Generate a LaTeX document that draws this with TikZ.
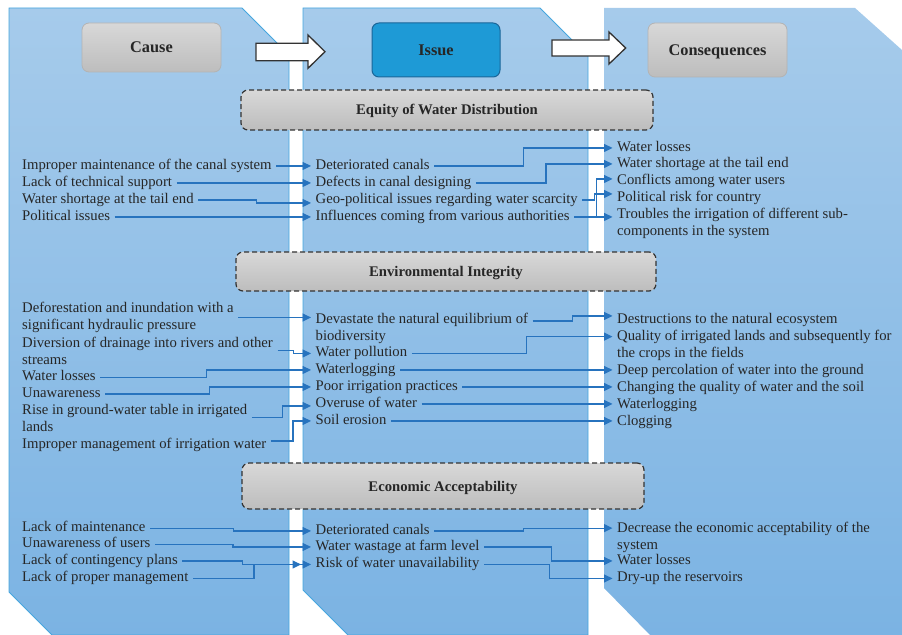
\documentclass[tikz,border=0pt]{standalone}
\usepackage{fontspec}
\setmainfont{Liberation Serif}
\usetikzlibrary{arrows.meta,calc}
\definecolor{panelTop}{HTML}{A6CBEB}
\definecolor{panelBot}{HTML}{7BB3E3}
\definecolor{panelEdge}{HTML}{45A6DE}
\definecolor{boxTop}{HTML}{D8D8D8}
\definecolor{boxBot}{HTML}{BDBDBD}
\definecolor{boxEdge}{HTML}{B3B3B3}
\definecolor{issueFill}{HTML}{1E9AD6}
\definecolor{issueEdge}{HTML}{1A6699}
\definecolor{linkblue}{HTML}{2773BE}
\definecolor{txt}{HTML}{262626}

\begin{document}
\begin{tikzpicture}[x=1bp,y=-1bp,
    panel/.style={top color=panelTop,bottom color=panelBot},
    panelline/.style={draw=panelEdge,line width=0.8bp},
    head/.style={draw=boxEdge,line width=0.8bp,rounded corners=7bp,top color=boxTop,bottom color=boxBot,
        font=\fontsize{16.3bp}{19bp}\selectfont\bfseries,text=txt,inner sep=0pt,text height=11bp,text depth=0bp},
    issuebox/.style={draw=issueEdge,line width=1bp,rounded corners=7bp,fill=issueFill,
        font=\fontsize{16.3bp}{19bp}\selectfont\bfseries,text=txt,inner sep=0pt,text height=11bp,text depth=0bp},
    group/.style={draw=black!80,dash pattern=on 5bp off 3bp,line width=1.2bp,rounded corners=7bp,
        top color=boxTop,bottom color=boxBot,font=\fontsize{14.7bp}{17bp}\selectfont\bfseries,text=txt,
        inner sep=0pt,text height=10bp,text depth=0bp},
    item/.style={anchor=north west,inner xsep=4.5bp,inner ysep=0pt,font=\fontsize{14.7bp}{17bp}\selectfont,
        text=txt,text height=10bp,text depth=3.5bp},
    items/.style={anchor=north west,inner xsep=4.5bp,inner ysep=0pt,font=\fontsize{14.7bp}{17bp}\selectfont,
        text=txt,align=left},
    link/.style={draw=linkblue,line width=1.2bp,-{Triangle[length=8.5bp,width=8bp]}},
    blockarrow/.style={draw=black!80,fill=white,line width=1.3bp,line join=miter}
]
\useasboundingbox (0,0) rectangle (902,635);

\path[panel,panelline] (9,8) -- (242,8) -- (289,55) -- (289,635) -- (52,635) -- (9,592) -- cycle;
\path[panel,panelline] (303,8) -- (540,8) -- (588,56) -- (588,635) -- (348,635) -- (303,590) -- cycle;
\path[panel] (604,8) -- (855,8) -- (902,50) -- (902,635) -- (650,635) -- (604,588) -- cycle;

\node[head,minimum width=139bp,minimum height=49bp] (cause) at (151.5,47.5) {Cause};
\node[issuebox,minimum width=128bp,minimum height=54bp] (issue) at (436,50) {Issue};
\node[head,minimum width=139bp,minimum height=54bp] (conseq) at (717.5,50) {Consequences};

\draw[blockarrow] (256,43.3) -- (308,43.3) -- (308,35) -- (325,51.7) -- (308,68.3) -- (308,60.7) -- (256,60.7) -- cycle;
\draw[blockarrow] (552,40) -- (609,40) -- (609,32) -- (625.7,48) -- (609,64) -- (609,56) -- (552,56) -- cycle;

\node[group,minimum width=412bp,minimum height=40bp] (secA) at (447,110) {Equity of Water Distribution};
\node[group,minimum width=420bp,minimum height=39bp] (secB) at (446,271.5) {Environmental Integrity};
\node[group,minimum width=402bp,minimum height=46bp] (secC) at (443,486) {Economic Acceptability};

\node[item] (cA1) at (17.5,159) {Improper maintenance of the canal system};
\node[item] (cA2) at (17.5,176) {Lack of technical support};
\node[item] (cA3) at (17.5,193) {Water shortage at the tail end};
\node[item] (cA4) at (17.5,210) {Political issues};
\node[item] (iA1) at (311,159) {Deteriorated canals};
\node[item] (iA2) at (311,176) {Defects in canal designing};
\node[item] (iA3) at (311,193) {Geo-political issues regarding water scarcity};
\node[item] (iA4) at (311,210) {Influences coming from various authorities};
\node[item] (qA1) at (612.5,141) {Water losses};
\node[item] (qA2) at (612.5,157) {Water shortage at the tail end};
\node[item] (qA3) at (612.5,174) {Conflicts among water users};
\node[item] (qA4) at (612.5,191) {Political risk for country};
\node[items] (qA5) at (612.5,208) {Troubles the irrigation of different sub-\\components in the system};

\node[items] (cB1) at (17.5,302) {Deforestation and inundation with a\\significant hydraulic pressure};
\node[items] (cB2) at (17.5,336.5) {Diversion of drainage into rivers and other\\streams};
\node[item] (cB3) at (17.5,370.5) {Water losses};
\node[item] (cB4) at (17.5,387) {Unawareness};
\node[items] (cB5) at (17.5,404) {Rise in ground-water table in irrigated\\lands};
\node[item] (cB6) at (17.5,438) {Improper management of irrigation water};
\node[items] (iB1) at (311,313) {Devastate the natural equilibrium of\\biodiversity};
\node[item] (iB2) at (311,346.5) {Water pollution};
\node[item] (iB3) at (311,363) {Waterlogging};
\node[item] (iB4) at (311,380) {Poor irrigation practices};
\node[item] (iB5) at (311,397) {Overuse of water};
\node[item] (iB6) at (311,414) {Soil erosion};
\node[item] (qB1) at (612.5,313) {Destructions to the natural ecosystem};
\node[items] (qB2) at (612.5,330) {Quality of irrigated lands and subsequently for\\the crops in the fields};
\node[item] (qB3) at (612.5,364) {Deep percolation of water into the ground};
\node[item] (qB4) at (612.5,381.5) {Changing the quality of water and the soil};
\node[item] (qB5) at (612.5,398) {Waterlogging};
\node[item] (qB6) at (612.5,415) {Clogging};

\node[item] (cC1) at (17.5,521.5) {Lack of maintenance};
\node[item] (cC2) at (17.5,537.5) {Unawareness of users};
\node[item] (cC3) at (17.5,554) {Lack of contingency plans};
\node[item] (cC4) at (17.5,571.5) {Lack of proper management};
\node[item] (iC1) at (311,524) {Deteriorated canals};
\node[item] (iC2) at (311,540) {Water wastage at farm level};
\node[item] (iC3) at (311,557.5) {Risk of water unavailability};
\node[items] (qC1) at (612.5,521.5) {Decrease the economic acceptability of the\\system};
\node[item] (qC2) at (612.5,554) {Water losses};
\node[item] (qC3) at (612.5,571.5) {Dry-up the reservoirs};

\draw[link] (cA1.east) -- ++(17,0) |- (iA1.west);
\draw[link] (cA2.east) -- (iA2.west);
\draw[link] (cA3.east) -- ++(58,0) |- ([yshift=-3bp]iA3.west);
\draw[link] (cA4.east) -- (iA4.west);
\draw[link] (iA1.east) -- ++(89,0) |- (qA1.west);
\draw[link] (iA2.east) -- ++(70,0) |- (qA2.west);
\draw[link] (iA3.east) -- ++(12,0) |- ([yshift=4bp]qA4.west);
\draw[link] (iA4.east) -- ++(22,0) |- ([yshift=2bp]qA3.west);
\draw[link] (iA4.east) -- (iA4.east -| qA5.west);

\draw[link] (cB1.east) -- (cB1.east -| iB1.west);
\draw[link] (cB2.east) -- ++(16,0) |- (iB2.west);
\draw[link] (cB3.east) -- ++(106,0) |- (iB3.west);
\draw[link] (cB4.east) -- ++(104,0) |- (iB4.west);
\draw[link] (cB5.east) -- ++(31,0) |- ([yshift=-2bp]iB5.west);
\draw[link] ([yshift=4bp]cB6.east) -- ++(22,0) |- (iB6.west);
\draw[link] ([yshift=-8bp]iB1.north east) -- ++(40,0) |- ([yshift=4bp]qB1.west);
\draw[link] (iB2.east) -- ++(115,0) |- ([yshift=-6.6bp]qB2.north west);
\draw[link] (iB3.east) -- (iB3.east -| qB3.west);
\draw[link] (iB4.east) -- (iB4.east -| qB4.west);
\draw[link] (iB5.east) -- (iB5.east -| qB5.west);
\draw[link] (iB6.east) -- (iB6.east -| qB6.west);

\draw[link] (cC1.east) -- ++(83,0) |- (iC1.west);
\draw[link] (cC2.east) -- ++(78,0) |- (iC2.west);
\draw[link] (cC3.east) -- ++(60,0) |- (iC3.west);
\draw[link] (cC4.east) -- ++(61,0) |- ([xshift=-10bp]iC3.west);
\draw[link] (iC1.east) -- ++(89,0) |- ([yshift=-6.6bp]qC1.north west);
\draw[link] (iC2.east) -- ++(67,0) |- (qC2.west);
\draw[link] (iC3.east) -- ++(65,0) |- (qC3.west);
\end{tikzpicture}
\end{document}
